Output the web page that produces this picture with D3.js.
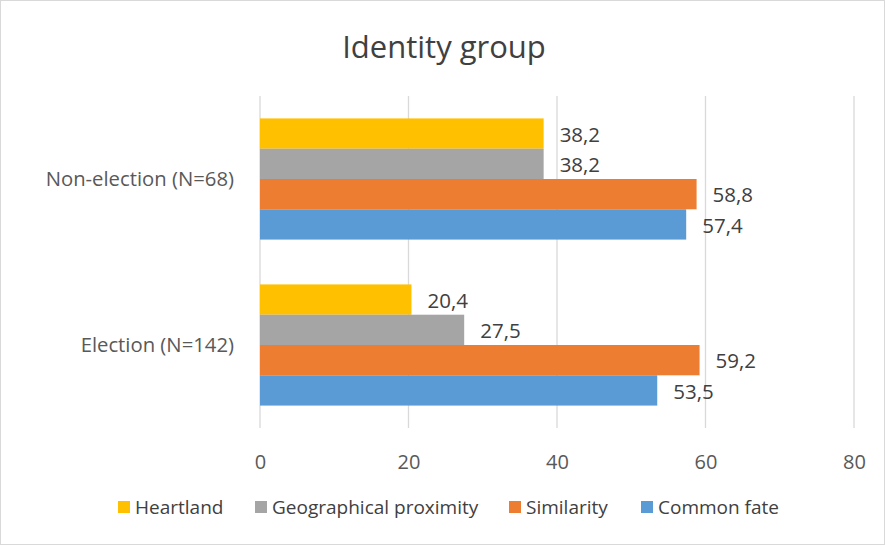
<!DOCTYPE html>
<html><head><meta charset="utf-8">
<script src="https://cdn.jsdelivr.net/npm/d3@7"></script>
<style>
body{margin:0;background:#fff;}
svg{display:block;font-family:"Open Sans",sans-serif;}
</style></head>
<body>
<svg id="chart" width="885" height="545"></svg>
<script>
const categories = ["Non-election (N=68)", "Election (N=142)"];
const seriesNames = ["Heartland", "Geographical proximity", "Similarity", "Common fate"];
const heartland = [38.2, 20.4];
const geoProximity = [38.2, 27.5];
const similarity = [58.8, 59.2];
const commonFate = [57.4, 53.5];
const xTicks = [0, 20, 40, 60, 80];
const colors = ["#FFC000", "#A5A5A5", "#ED7D31", "#5B9BD5"];

const seriesValues = [heartland, geoProximity, similarity, commonFate];
const svg = d3.select("#chart");

svg.append("rect").attr("x",0.5).attr("y",0.5).attr("width",884).attr("height",544)
  .attr("fill","#fff").attr("stroke","#d9d9d9");

const x = d3.scaleLinear().domain([0,80]).range([260,854]);
const y0 = d3.scaleBand().domain(categories).range([96,428]).paddingInner(0.27).paddingOuter(0.135);
const y1 = d3.scaleBand().domain(seriesNames).range([0,y0.bandwidth()]);

// gridlines
svg.append("g").selectAll("line").data(xTicks).join("line")
  .attr("x1",d=>x(d)).attr("x2",d=>x(d)).attr("y1",96).attr("y2",428)
  .attr("stroke","#d9d9d9").attr("stroke-width",1.3);

// x axis labels
const xa = svg.append("g").attr("transform","translate(0,428)")
  .call(d3.axisBottom(x).tickValues(xTicks).tickSize(0).tickPadding(27).tickFormat(d3.format("d")));
xa.select(".domain").remove();
xa.selectAll("text").attr("font-size",20).attr("fill","#595959").attr("font-family","'Open Sans',sans-serif");

// y axis labels
const ya = svg.append("g").attr("transform","translate(260,0)")
  .call(d3.axisLeft(y0).tickSize(0).tickPadding(26));
ya.select(".domain").remove();
ya.selectAll("text").attr("font-size",20.3).attr("fill","#595959").attr("font-family","'Open Sans',sans-serif");

// bars
const groups = svg.append("g").selectAll("g").data(categories).join("g")
  .attr("transform",c=>`translate(0,${y0(c)})`);
groups.each(function(c,ci){
  const g = d3.select(this);
  const rows = seriesNames.map((s,si)=>({s, si, v: seriesValues[si][ci]}));
  g.selectAll("rect").data(rows).join("rect")
    .attr("x",x(0)).attr("y",d=>y1(d.s)).attr("width",d=>x(d.v)-x(0)).attr("height",y1.bandwidth())
    .attr("fill",d=>colors[d.si]);
  g.selectAll("text").data(rows).join("text")
    .attr("x",d=>x(d.v)+16).attr("y",d=>y1(d.s)+y1.bandwidth()/2+1).attr("dy","0.35em")
    .attr("font-size",20.5).attr("fill","#404040")
    .text(d=>d3.format(".1f")(d.v).replace(".",","));
});

// title
svg.append("text").attr("x",444).attr("y",58).attr("text-anchor","middle")
  .attr("font-size",31).attr("fill","#404040").text("Identity group");

// legend
const legendX = [118, 255, 509, 641];
const lg = svg.append("g").selectAll("g").data(seriesNames).join("g")
  .attr("transform",(d,i)=>`translate(${legendX[i]},507)`);
lg.append("rect").attr("x",0).attr("y",-6).attr("width",12).attr("height",12).attr("fill",(d,i)=>colors[i]);
lg.append("text").attr("x",17).attr("y",0).attr("dy","0.35em").attr("font-size",19)
  .attr("fill","#404040").text(d=>d);
</script>
</body></html>
